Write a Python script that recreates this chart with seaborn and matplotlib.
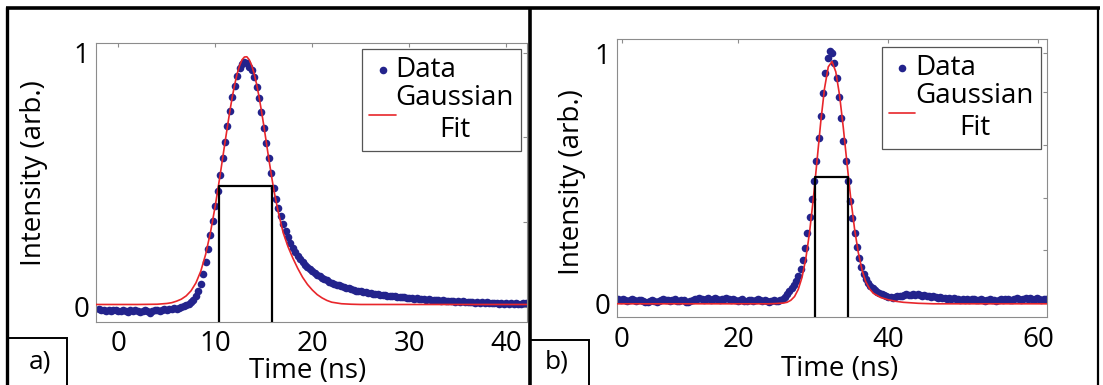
import numpy as np
import matplotlib.pyplot as plt
import seaborn as sns
from matplotlib.lines import Line2D

# ---- values ----

# panel a) measured pulse, sampled every 0.25 ns from -2 to 42 ns
time_a = np.linspace(-2.0, 42.0, 177)
data_a = [
    -0.010, -0.014, -0.012, -0.016,
    -0.013, -0.018, -0.015, -0.012,
    -0.016, -0.019, -0.014, -0.017,
    -0.020, -0.015, -0.018, -0.013,
    -0.017, -0.021, -0.016, -0.014,
    -0.019, -0.024, -0.018, -0.015,
    -0.012, -0.016, -0.013, -0.010,
    -0.014, -0.009, -0.011, -0.006,
    -0.008, -0.004, -0.002, 0.003,
    0.006, 0.010, 0.017, 0.026,
    0.040, 0.060, 0.090, 0.130,
    0.175, 0.225, 0.280, 0.335,
    0.395, 0.455, 0.520, 0.585,
    0.650, 0.712, 0.770, 0.825,
    0.870, 0.910, 0.940, 0.957,
    0.963, 0.958, 0.945, 0.930,
    0.905, 0.865, 0.820, 0.765,
    0.705, 0.645, 0.585, 0.525,
    0.468, 0.425, 0.390, 0.355,
    0.325, 0.298, 0.274, 0.252,
    0.232, 0.216, 0.200, 0.188,
    0.176, 0.165, 0.156, 0.148,
    0.140, 0.133, 0.126, 0.119,
    0.113, 0.108, 0.103, 0.098,
    0.094, 0.090, 0.086, 0.083,
    0.080, 0.077, 0.074, 0.071,
    0.068, 0.066, 0.063, 0.062,
    0.060, 0.057, 0.056, 0.054,
    0.053, 0.050, 0.049, 0.048,
    0.047, 0.044, 0.045, 0.042,
    0.042, 0.040, 0.041, 0.038,
    0.038, 0.036, 0.037, 0.034,
    0.034, 0.033, 0.031, 0.032,
    0.031, 0.029, 0.030, 0.027,
    0.028, 0.026, 0.027, 0.024,
    0.025, 0.023, 0.025, 0.022,
    0.023, 0.021, 0.022, 0.019,
    0.021, 0.018, 0.020, 0.017,
    0.019, 0.016, 0.018, 0.015,
    0.017, 0.014, 0.016, 0.013,
    0.016, 0.012, 0.015, 0.012,
    0.014, 0.011, 0.013, 0.010,
    0.013, 0.010, 0.012, 0.009,
    0.012, 0.010, 0.011, 0.014,
    0.012,
]

# panel a) gaussian fit curve
fit_a_x = [-2.3, 0, 2, 4, 5, 5.5, 6, 6.5, 7, 7.5, 8, 8.5, 9, 9.5, 10, 10.5,
           11, 11.25, 11.5, 11.75, 12, 12.25, 12.5, 12.75, 13, 13.25,
           13.5, 13.75, 14, 14.25, 14.5, 14.75, 15, 15.25, 15.5, 16,
           16.5, 17, 17.5, 18, 18.5, 19, 19.5, 20, 20.5, 21, 21.5, 22,
           23, 24, 25, 30, 36, 42.1]
fit_a_y = [0.008, 0.008, 0.008, 0.009, 0.012, 0.015, 0.021, 0.029, 0.042,
           0.062, 0.093, 0.139, 0.205, 0.292, 0.398, 0.519, 0.647, 0.709,
           0.770, 0.826, 0.875, 0.917, 0.949, 0.972, 0.983, 0.984, 0.972,
           0.950, 0.918, 0.877, 0.828, 0.772, 0.712, 0.649, 0.585, 0.465,
           0.370, 0.290, 0.235, 0.190, 0.150, 0.115, 0.087, 0.065, 0.047,
           0.034, 0.024, 0.017, 0.011, 0.009, 0.008, 0.008, 0.008, 0.008]

# panel a) FWHM marker
fwhm_a = [10.41, 15.86]
half_a = 0.476

# panel b) measured pulse, sampled every 0.3 ns from 4 to 61 ns
time_b = np.linspace(4.0, 61.0, 191)
data_b = [
    0.015, 0.012, 0.018, 0.014, 0.010, 0.013, 0.016, 0.011, 0.009, 0.012,
    0.014, 0.008, 0.004, 0.006, 0.010, 0.013, 0.009, 0.005, 0.008, 0.012,
    0.015, 0.011, 0.014, 0.009, 0.012, 0.016, 0.010, 0.007, 0.011, 0.013,
    0.006, 0.004, 0.009, 0.014, 0.018, 0.015, 0.020, 0.017, 0.013, 0.016,
    0.019, 0.014, 0.017, 0.021, 0.016, 0.012, 0.015, 0.018, 0.022, 0.017,
    0.013, 0.016, 0.011, 0.008, 0.012, 0.015, 0.010, 0.007, 0.011, 0.014,
    0.009, 0.012, 0.015, 0.011, 0.008, 0.013, 0.010, 0.006, 0.009, 0.012,
    0.008, 0.010, 0.014, 0.018, 0.025, 0.036, 0.048, 0.060, 0.072, 0.088,
    0.108, 0.135, 0.172, 0.220, 0.280, 0.345, 0.415, 0.490, 0.570, 0.660,
    0.750, 0.840, 0.920, 0.980, 1.010, 1.000, 0.960, 0.900, 0.825, 0.740,
    0.650, 0.570, 0.490, 0.410, 0.340, 0.280, 0.225, 0.180, 0.145, 0.118,
    0.097, 0.082, 0.070, 0.060, 0.052, 0.045, 0.040, 0.035, 0.031, 0.028,
    0.026, 0.024, 0.022, 0.024, 0.027, 0.030, 0.028, 0.032, 0.035, 0.031,
    0.034, 0.037, 0.033, 0.036, 0.032, 0.029, 0.033, 0.030, 0.027, 0.025,
    0.028, 0.024, 0.021, 0.023, 0.019, 0.022, 0.018, 0.020, 0.016, 0.019,
    0.015, 0.018, 0.014, 0.017, 0.013, 0.016, 0.012, 0.015, 0.018, 0.014,
    0.011, 0.015, 0.012, 0.009, 0.013, 0.016, 0.012, 0.014, 0.010, 0.013,
    0.016, 0.012, 0.015, 0.018, 0.014, 0.011, 0.015, 0.019, 0.016, 0.013,
    0.017, 0.020, 0.016, 0.019, 0.015, 0.018, 0.021, 0.017, 0.014, 0.018, 0.016,
]

# panel b) gaussian fit curve
fit_b_x = [3.87, 10, 20, 24, 25, 26, 26.5, 27, 27.5, 28, 28.5, 29, 29.5, 30,
           30.5, 31, 31.5, 32, 32.5, 33, 33.5, 34, 34.5, 35, 35.5, 36, 36.5,
           37, 37.5, 38, 39, 40, 41, 42, 43, 44, 46, 61.16]
fit_b_y = [-0.003, -0.003, -0.003, -0.003, -0.002, 0.000, 0.003, 0.011,
           0.026, 0.055, 0.103, 0.177, 0.282, 0.416, 0.570, 0.726, 0.859,
           0.945, 0.966, 0.925, 0.832, 0.702, 0.557, 0.417, 0.297, 0.202,
           0.132, 0.085, 0.057, 0.039, 0.022, 0.013, 0.007, 0.003, 0.001,
           -0.001, -0.003, -0.003]

fwhm_b = [30.23, 34.59]
half_b = 0.505

# axis ticks / labels
xticks_a = [0, 10, 20, 30, 40]
xticklabels_a = ['0', '10', '20', '30', '40']
yminor_a = [1 / 3, 2 / 3]
xticks_b = [4.45, 20, 40, 60]
xticklabels_b = ['0', '20', '40', '60']
yminor_b = [0.211, 0.422, 0.633, 0.844]

# ---- style ----
sns.set_theme(style="white")
plt.rcParams['font.family'] = ['Open Sans', 'DejaVu Sans']
plt.rcParams['text.color'] = 'black'

DOT = '#23238c'
RED = '#e8262b'
GREY = '#8c8c8c'
W, H = 1103, 385

fig = plt.figure(figsize=(W / 100, H / 100), dpi=100)
fig.patch.set_facecolor('white')


def px_axes(left, top, right, bottom):
    return fig.add_axes([left / W, 1 - bottom / H, (right - left) / W, (bottom - top) / H])


ax_a = px_axes(96, 43.3, 526.7, 322)
ax_b = px_axes(617.3, 39.3, 1047, 317.3)

panels = [
    (ax_a, time_a, data_a, fit_a_x, fit_a_y, fwhm_a, half_a, (-2.3, 42.1), (-0.061, 1.037),
     xticks_a, xticklabels_a, yminor_a, (0.9868, 0.9796), (-0.112, 0.533), (0.492, -0.126)),
    (ax_b, time_b, data_b, fit_b_x, fit_b_y, fwhm_b, half_b, (3.87, 61.16), (-0.057, 1.055),
     xticks_b, xticklabels_b, yminor_b, (0.9853, 0.9712), (-0.074, 0.485), (0.518, -0.137)),
]

for (ax, tx, dy, fx, fy, fwhm, half, xlim, ylim, xt, xtl, ymin_t, leg_anchor,
     ylab_pos, xlab_pos) in panels:
    sns.scatterplot(x=tx, y=dy, ax=ax, s=30, color=DOT, linewidth=0,
                    label='Data', zorder=2)
    sns.lineplot(x=fx, y=fy, ax=ax, color=RED, lw=1.2, sort=False,
                 label='Gaussian\nFit', zorder=3)
    # FWHM box
    ax.plot([fwhm[0], fwhm[0], fwhm[1], fwhm[1]], [ylim[0], half, half, ylim[0]],
            color='black', lw=1.6, zorder=4)

    ax.set_xlim(*xlim)
    ax.set_ylim(*ylim)
    ax.set_xticks(xt)
    ax.set_xticklabels(xtl)
    ax.set_yticks([0, 1])
    ax.set_yticklabels(['0', '1'])
    ax.set_yticks(ymin_t, minor=True)

    for sp in ax.spines.values():
        sp.set_color(GREY)
        sp.set_linewidth(0.8)
    ax.tick_params(which='both', direction='in', top=True, right=True,
                   color=GREY, length=3, width=0.8, labelsize=20, labelcolor='black')
    ax.tick_params(axis='x', pad=6)
    ax.tick_params(axis='y', pad=5)

    ax.set_xlabel('Time (ns)', fontsize=20, color='black')
    ax.set_ylabel('Intensity (arb.)', fontsize=20, color='black')
    ax.yaxis.set_label_coords(*ylab_pos)
    ax.xaxis.set_label_coords(*xlab_pos)

    handles, labels = ax.get_legend_handles_labels()
    leg = ax.legend(handles, labels, loc='upper right', bbox_to_anchor=leg_anchor,
                    borderaxespad=0, fontsize=20, handlelength=0.95, handletextpad=0.0,
                    borderpad=0.25, labelspacing=0.0, fancybox=False, framealpha=1,
                    edgecolor='#555555')
    leg.get_frame().set_linewidth(0.9)
    for t in leg.get_texts():
        t.set_multialignment('center')


# ---- panel frames and a) / b) tags ----
def fig_line(xs, ys, lw):
    fig.add_artist(Line2D([x / W for x in xs], [1 - y / H for y in ys],
                          transform=fig.transFigure, color='black', lw=lw,
                          solid_capstyle='butt', solid_joinstyle='miter'))


fig_line([5.5, 1099.5], [8, 8], 2.6)
fig_line([7, 7], [6.5, 385], 2.4)
fig_line([529.5, 529.5], [6.5, 385], 2.6)
fig_line([1098, 1098], [6.5, 385], 1.6)
fig_line([7, 66.7, 66.7], [338, 338, 385], 1.4)
fig_line([529.5, 589, 589], [340, 340, 385], 1.4)

fig.text(40 / W, 1 - 362 / H, 'a)', fontsize=19, ha='center', va='center')
fig.text(557 / W, 1 - 362 / H, 'b)', fontsize=19, ha='center', va='center')

fig.savefig('out.png', dpi=100)
